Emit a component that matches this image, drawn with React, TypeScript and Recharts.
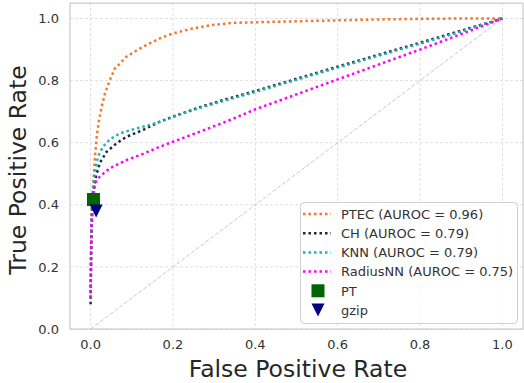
import React from 'react';
import { ComposedChart, Line, Scatter, XAxis, YAxis, CartesianGrid, ReferenceArea } from 'recharts';

const xTicks = [0, 0.2, 0.4, 0.6, 0.8, 1.0];
const yTicks = [0, 0.2, 0.4, 0.6, 0.8, 1.0];

const ptecFpr = [0, 0.002, 0.005, 0.008, 0.011, 0.015, 0.02, 0.027, 0.035, 0.047, 0.059, 0.087, 0.127, 0.168, 0.2, 0.248, 0.289, 0.345, 0.401, 0.5, 0.6, 0.7, 0.8, 0.9, 1.0];
const ptecTpr = [0.1, 0.36, 0.44, 0.5, 0.56, 0.62, 0.67, 0.716, 0.759, 0.802, 0.839, 0.877, 0.909, 0.936, 0.952, 0.968, 0.978, 0.986, 0.988, 0.991, 0.994, 0.997, 0.999, 1.0, 1.0];

const chFpr = [0, 0.002, 0.005, 0.009, 0.013, 0.022, 0.039, 0.063, 0.087, 0.127, 0.168, 0.2, 0.264, 0.329, 0.401, 0.6, 0.8, 1.0];
const chTpr = [0.08, 0.3, 0.42, 0.46, 0.491, 0.534, 0.571, 0.598, 0.619, 0.641, 0.668, 0.684, 0.714, 0.74, 0.767, 0.845, 0.922, 1.0];

const knnFpr = [0, 0.002, 0.005, 0.01, 0.018, 0.03, 0.047, 0.071, 0.111, 0.143, 0.17, 0.2, 0.264, 0.329, 0.401, 0.6, 0.8, 0.9, 1.0];
const knnTpr = [0.1, 0.35, 0.44, 0.502, 0.555, 0.587, 0.611, 0.63, 0.646, 0.657, 0.668, 0.683, 0.712, 0.737, 0.764, 0.842, 0.919, 0.958, 1.0];

const rnnFpr = [0, 0.002, 0.006, 0.01, 0.0145, 0.027, 0.047, 0.087, 0.127, 0.168, 0.2, 0.264, 0.329, 0.401, 0.6, 0.8, 1.0];
const rnnTpr = [0.1, 0.33, 0.42, 0.46, 0.48, 0.496, 0.518, 0.544, 0.564, 0.587, 0.603, 0.635, 0.668, 0.708, 0.804, 0.9, 1.0];

const diagFpr = [0, 1];
const diagTpr = [0, 1];

const ptFpr = [0.007];
const ptTpr = [0.417];
const gzipFpr = [0.0135];
const gzipTpr = [0.38];

const seriesNames = ['PTEC (AUROC = 0.96)', 'CH (AUROC = 0.79)', 'KNN (AUROC = 0.79)', 'RadiusNN (AUROC = 0.75)'];
const seriesColors = ['#f97528', '#232347', '#20b2aa', '#ff00ff'];
const markerNames = ['PT', 'gzip'];
const markerColors = ['#006400', '#000080'];

const zip = (xs: number[], ys: number[]) => xs.map((x, i) => ({ x, y: ys[i] }));

const seriesData = [zip(ptecFpr, ptecTpr), zip(chFpr, chTpr), zip(knnFpr, knnTpr), zip(rnnFpr, rnnTpr)];

const FONT = 'DejaVu Sans';
const DOTS = '2.5 3';

const SquareShape = (props: any) => {
  const { cx, cy } = props;
  if (cx == null || cy == null) return null;
  return <rect x={cx - 6.5} y={cy - 6.5} width={13} height={13} fill={markerColors[0]} />;
};

const TriangleShape = (props: any) => {
  const { cx, cy } = props;
  if (cx == null || cy == null) return null;
  return <polygon points={`${cx - 6.5},${cy - 6.5} ${cx + 6.5},${cy - 6.5} ${cx},${cy + 6.5}`} fill={markerColors[1]} />;
};

const Legend = () => {
  const left = 300;
  const top = 202;
  const rowH = 19.2;
  const firstY = 214;
  return (
    <svg width={524} height={383} style={{ position: 'absolute', left: 0, top: 0, pointerEvents: 'none' }}>
      <rect x={left + 0.5} y={top + 0.5} width={217} height={121} rx={4} ry={4} fill="rgba(255,255,255,0.8)" stroke="#d0d0d0" strokeWidth={1} />
      {seriesNames.map((n, i) => (
        <g key={n}>
          <line x1={303} x2={331} y1={firstY + i * rowH} y2={firstY + i * rowH} stroke={seriesColors[i]} strokeWidth={2.5} strokeDasharray={DOTS} />
          <text x={341} y={firstY + i * rowH + 4.7} fontSize={13} fontFamily={FONT} fill="#333">{n}</text>
        </g>
      ))}
      {markerNames.map((n, j) => {
        const cy = firstY + (4 + j) * rowH;
        return (
          <g key={n}>
            {j === 0 ? (
              <rect x={318 - 6.5} y={cy - 6.5} width={13} height={13} fill={markerColors[0]} />
            ) : (
              <polygon points={`${318 - 6.5},${cy - 6.5} ${318 + 6.5},${cy - 6.5} ${318},${cy + 6.5}`} fill={markerColors[1]} />
            )}
            <text x={341} y={cy + 4.7} fontSize={13} fontFamily={FONT} fill="#333">{n}</text>
          </g>
        );
      })}
    </svg>
  );
};

export default function App() {
  return (
    <div style={{ position: 'absolute', left: 0, top: 0, width: 524, height: 383, overflow: 'hidden', background: '#fff' }}>
      <ComposedChart width={524} height={383} margin={{ top: 3, right: 1, bottom: 0, left: 0 }} style={{ fontFamily: FONT }}>
        <CartesianGrid stroke="#e0e0e0" strokeDasharray="3 2" horizontalValues={yTicks} verticalValues={xTicks} />
        <XAxis
          type="number"
          dataKey="x"
          domain={[-0.05, 1.05]}
          ticks={xTicks}
          tickFormatter={(v: number) => v.toFixed(1)}
          axisLine={false}
          tickLine={false}
          tickSize={6}
          tickMargin={5}
          height={54}
          tick={{ fill: '#333', fontSize: 13, fontFamily: FONT }}
          label={{
            content: () => (
              <text x={298} y={377} textAnchor="middle" fontSize={23.5} fontFamily={FONT} fill="#262626">False Positive Rate</text>
            ),
          }}
          allowDataOverflow
        />
        <YAxis
          type="number"
          dataKey="y"
          domain={[0, 1.05]}
          ticks={yTicks}
          tickFormatter={(v: number) => v.toFixed(1)}
          axisLine={false}
          tickLine={false}
          tickSize={6}
          tickMargin={5}
          width={70}
          tick={{ fill: '#333', fontSize: 13, fontFamily: FONT }}
          label={{
            content: () => (
              <text x={25.5} y={170} transform="rotate(-90 25.5 170)" textAnchor="middle" fontSize={23.5} fontFamily={FONT} fill="#262626">True Positive Rate</text>
            ),
          }}
          allowDataOverflow
        />
        <ReferenceArea x1={-0.05} x2={1.05} y1={0} y2={1.05} fill="none" stroke="#cccccc" strokeWidth={1.25} ifOverflow="visible" />
        <Line data={zip(diagFpr, diagTpr)} dataKey="y" type="linear" stroke="#c8c8c8" strokeWidth={1} strokeDasharray="4 2" dot={false} activeDot={false} isAnimationActive={false} />
        <Scatter data={zip(ptFpr, ptTpr)} dataKey="y" shape={SquareShape} isAnimationActive={false} />
        <Scatter data={zip(gzipFpr, gzipTpr)} dataKey="y" shape={TriangleShape} isAnimationActive={false} />
        {seriesData.map((d, i) => (
          <Line
            key={seriesNames[i]}
            data={d}
            dataKey="y"
            type="linear"
            stroke={seriesColors[i]}
            strokeWidth={2.5}
            strokeDasharray={DOTS}
            dot={false}
            activeDot={false}
            isAnimationActive={false}
          />
        ))}
      </ComposedChart>
      <Legend />
    </div>
  );
}
